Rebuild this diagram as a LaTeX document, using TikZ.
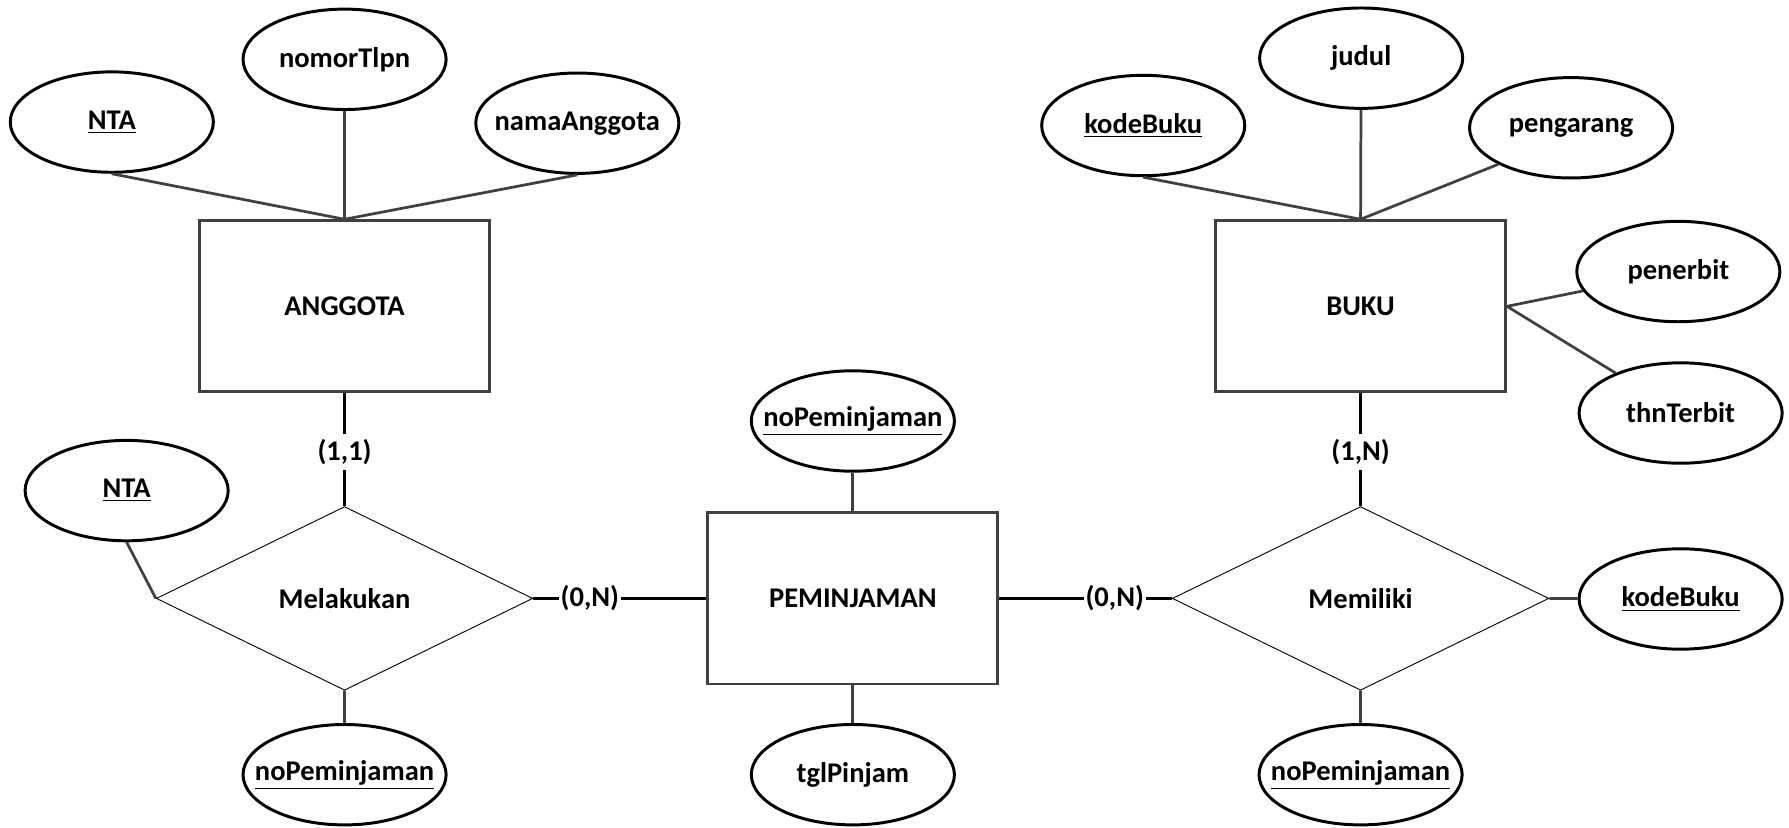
\documentclass[tikz,border=0pt]{standalone}
\usepackage{fontspec}
\setmainfont{Carlito}
\usetikzlibrary{shapes.geometric}

\begin{document}
\begin{tikzpicture}
[x=0.5pt,y=-0.5pt,
 font=\fontsize{12.5}{15}\selectfont\bfseries,
 entitas/.style={draw=black!75,line width=1.3pt,minimum width=127pt,minimum height=75pt,inner sep=0pt},
 atribut/.style={ellipse,draw,line width=1.3pt,minimum width=89pt,minimum height=44pt,inner xsep=-15pt,inner ysep=0pt},
 relasi/.style={diamond,draw,line width=0.4pt,minimum width=165pt,minimum height=80.5pt,inner sep=0pt},
 kardinal/.style={inner xsep=0.5pt,inner ysep=2pt},
 garis/.style={draw=black!75,line width=1.2pt},
 garisk/.style={draw=black,line width=1.3pt}]
\useasboundingbox (0,0) rectangle (1568,725.7);

\node[entitas] (anggota) at (302,268.5) {ANGGOTA};
\node[entitas] (peminjaman) at (747.5,524.5) {PEMINJAMAN};
\node[entitas] (buku) at (1192.5,268.5) {BUKU};

\node[relasi] (melakukan) at (302,524.5) {Melakukan};
\node[relasi] (memiliki) at (1192.5,524.5) {Memiliki};

\node[atribut] (nta) at (98,107) {\underline{NTA}};
\node[atribut] (nomortlpn) at (302,52) {nomorTlpn};
\node[atribut] (namaanggota) at (506,108) {namaAnggota};

\node[atribut] (kodebuku) at (1002,110) {\underline{kodeBuku}};
\node[atribut] (judul) at (1193,51) {judul};
\node[atribut] (pengarang) at (1377,112) {pengarang};
\node[atribut] (penerbit) at (1471,238) {penerbit};
\node[atribut] (thnterbit) at (1473,362) {thnTerbit};

\node[atribut] (nopem) at (747.5,369) {\underline{noPeminjaman}};
\node[atribut] (tglpinjam) at (747.5,679) {tglPinjam};

\node[atribut] (ntarel) at (111,430) {\underline{NTA}};
\node[atribut] (nopemrel) at (302,679) {\underline{noPeminjaman}};
\node[atribut] (kodebukurel) at (1473,525) {\underline{kodeBuku}};
\node[atribut] (nopemmil) at (1192.5,679) {\underline{noPeminjaman}};

\node[kardinal] (kar11) at (302,396) {(1,1)};
\node[kardinal] (kar1n) at (1192.5,396) {(1,N)};
\node[kardinal] (kar0n) at (517,524.5) {(0,N)};
\node[kardinal] (kar0nb) at (977,524.5) {(0,N)};

\path[garis] (nta.south) -- (anggota.north)
  (nomortlpn) -- (anggota.north)
  (namaanggota.south) -- (anggota.north);
\path[garis] (kodebuku.south) -- (buku.north)
  (judul) -- (buku.north)
  (pengarang.south west) -- (buku.north)
  (penerbit) -- (buku.east)
  (thnterbit) -- (buku.east);
\path[garis] (nopem) -- (peminjaman)
  (tglpinjam) -- (peminjaman);
\path[garis] (ntarel.south) -- (melakukan.west)
  (nopemrel) -- (melakukan.south)
  (kodebukurel) -- (memiliki.east)
  (nopemmil) -- (memiliki.south);

\path[garisk] (anggota) -- (kar11) -- (melakukan.north)
  (melakukan.east) -- (kar0n) -- (peminjaman)
  (peminjaman) -- (kar0nb) -- (memiliki.west)
  (buku) -- (kar1n) -- (memiliki.north);
\end{tikzpicture}
\end{document}
